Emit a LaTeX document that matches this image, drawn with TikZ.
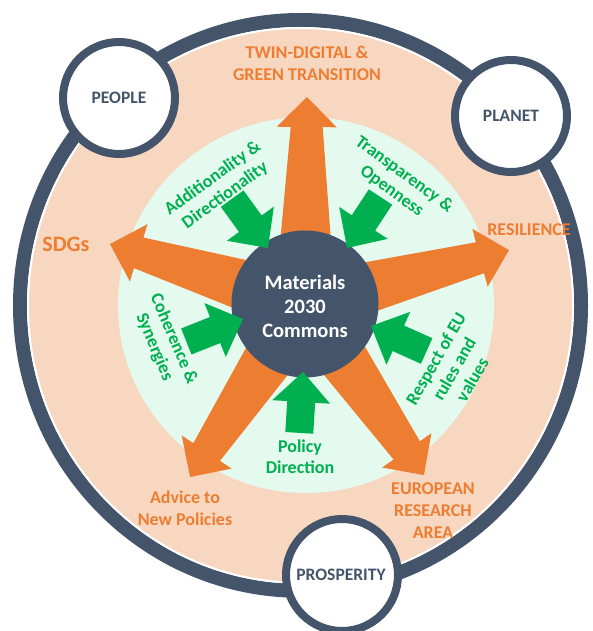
\documentclass[tikz,border=0pt]{standalone}
\usepackage{fontspec}
\setmainfont{Carlito}
\definecolor{navy}{HTML}{44546A}
\definecolor{peach}{RGB}{248,215,192}
\definecolor{mint}{RGB}{228,250,238}
\definecolor{orangec}{HTML}{ED7D31}
\definecolor{greenc}{HTML}{00B050}
\newcommand{\OrArrow}[2]{%
  \begin{scope}[shift={(305,304)},rotate=#1]
    \fill[orangec] (0,-30.5) -- (#2-30,-16) -- (#2-30,-30) -- (#2,0) -- (#2-30,30) -- (#2-30,16) -- (0,30.5) -- cycle;
  \end{scope}}
\newcommand{\GrArrow}[3]{%
  \begin{scope}[shift={(#1,#2)},rotate=#3]
    \fill[greenc] (0,0) -- (-30,29) -- (-30,14) -- (-61,14) -- (-61,-14) -- (-30,-14) -- (-30,-29) -- cycle;
  \end{scope}}
\begin{document}
\begin{tikzpicture}[x=1pt,y=-1pt,
  lbl/.style={font=\bfseries\fontsize{18}{22}\selectfont, align=center, inner sep=0pt},
  olbl/.style={lbl, text=orangec},
  glbl/.style={lbl, text=greenc, font=\bfseries\fontsize{18}{21}\selectfont},
  nlbl/.style={lbl, text=navy, font=\bfseries\fontsize{17.5}{21}\selectfont},
  smallcirc/.style={draw=navy, line width=8pt, fill=white}]
\useasboundingbox (0,0) rectangle (592,631);
\fill[white] (0,0) rectangle (592,631);
\clip (0,0) rectangle (592,631);
% outer ring
\fill[peach] (300.5,305.4) ellipse [x radius=273pt, y radius=278pt];
\draw[navy, line width=14pt] (300.5,305.4) ellipse [x radius=280.5pt, y radius=285.4pt];
\draw[white, line width=2pt] (300.5,305.4) ellipse [x radius=272.5pt, y radius=277.4pt];
% mint circle
\fill[mint] (306,305) circle [radius=188pt];
% orange arrows
\OrArrow{89.45}{207}
\OrArrow{162.9}{204}
\OrArrow{14.8}{211}
\OrArrow{236.4}{207.7}
\OrArrow{304.8}{208.3}
% centre
\fill[navy] (305,304) circle [radius=73.5pt];
\node[lbl, text=white, font=\bfseries\fontsize{20.5}{24}\selectfont] (core) at (305,306) {Materials\\2030\\Commons};
% green arrows
\GrArrow{268}{248}{-54}
\GrArrow{347}{248}{-123.3}
\GrArrow{243}{319}{21.6}
\GrArrow{303}{372}{86.5}
\GrArrow{371}{326}{155.8}
% small circles
\draw[smallcirc] (119,98) circle [radius=56pt];
\draw[smallcirc] (511,116) circle [radius=56pt];
\draw[smallcirc] (342,575) circle [radius=56pt];
\node[nlbl] (people) at (119,98) {PEOPLE};
\node[nlbl] (planet) at (511,116) {PLANET};
\node[nlbl] (prosperity) at (341,575) {PROSPERITY};
% orange labels
\node[olbl] (twin) at (307,63) {TWIN-DIGITAL \&\\GREEN TRANSITION};
\node[olbl, font=\bfseries\fontsize{22}{26}\selectfont] (sdgs) at (66,244) {SDGs};
\node[olbl] (resil) at (529,230) {RESILIENCE};
\node[olbl] (advice) at (185,508) {Advice to\\New Policies};
\node[olbl] (era) at (433,511) {EUROPEAN\\RESEARCH\\AREA};
% green labels
\node[glbl, rotate=36] (addit) at (219,187) {Additionality \&\\Directionality};
\node[glbl, rotate=-36] (transp) at (398,183) {Transparency \&\\Openness};
\node[glbl, rotate=-67] (coher) at (164,343) {Coherence \&\\Synergies};
\node[glbl] (policy) at (300,457) {Policy\\Direction};
\node[glbl, rotate=60] (respect) at (454,369) {Respect of EU\\rules and\\values};
\end{tikzpicture}
\end{document}
